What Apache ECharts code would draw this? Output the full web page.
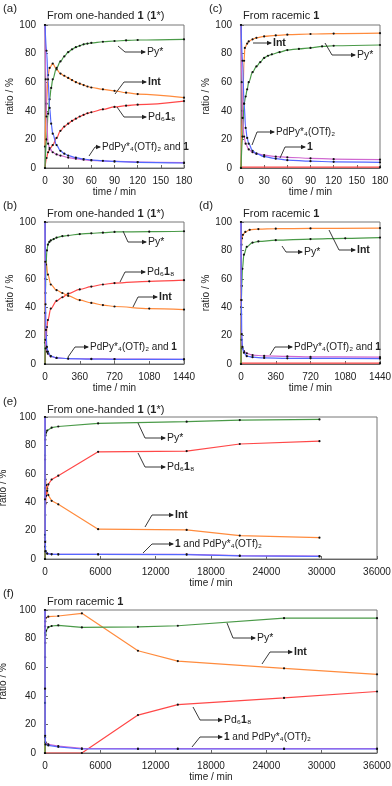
<!DOCTYPE html>
<html><head><meta charset="utf-8">
<script src="https://cdn.jsdelivr.net/npm/echarts@6/dist/echarts.min.js"></script>
<style>html,body{margin:0;padding:0;background:#fff}#c{width:392px;height:786px}</style>
</head><body><div id="c"></div><script>
// ---------- DATA (time in min, ratio in %) ----------
// (a) one-handed 1*, 0-180 min
const aPy   = [[0,0],[2,20],[4,38],[6,48],[8,56],[10,62],[15,70],[20,74.5],[25,78],[30,81],[35,83],[40,84.5],[45,85.5],[50,86.5],[55,87],[60,87.5],[75,88.3],[90,88.8],[105,89.2],[120,89.5],[180,90]];
const aInt  = [[0,15],[2,45],[4,65],[6,70],[10,73],[15,69],[20,66],[25,64.5],[30,63],[35,61.5],[40,60],[45,59],[50,58],[55,57],[60,56.3],[75,55],[90,54],[105,52.7],[120,51.7],[180,49.2]];
const aPd   = [[0,0],[2,7],[4,11],[6,13],[10,16],[15,21],[20,26],[25,29],[30,31],[35,33],[40,34.5],[45,36],[50,37.2],[55,38.3],[60,39],[75,41],[90,42.7],[105,43.6],[120,44.3],[180,46.8]];
const aBlue = [[0,100],[2,82],[4,62],[6,42],[8,31],[10,24],[15,16],[20,12],[25,10],[30,8.7],[40,7.2],[50,6.3],[60,5.6],[75,5],[90,4.6],[120,4],[180,3.5]];
const aOne  = [[0,100],[1,62],[2,36],[4,17],[6,14],[10,11],[15,9.5],[20,8.7],[30,7.3],[40,6.5],[50,5.8],[60,5.3],[90,4.6],[120,4.2],[180,3.8]];
// (b) one-handed 1*, 0-1440 min
const bPy   = [[0,0],[5,50],[10,70],[20,80],[30,84],[45,86],[60,87],[90,88],[120,89],[180,90],[240,90.5],[360,91.5],[480,92],[600,92.5],[720,93],[1080,93.2],[1440,93.5]];
const bInt  = [[0,15],[3,60],[10,73],[30,63],[60,56],[120,52],[180,50],[240,48],[360,45],[480,43],[600,41.5],[720,40.5],[1080,39],[1440,38.3]];
const bPd   = [[0,0],[5,11],[10,13],[20,26],[30,31],[60,39],[120,44.5],[180,47],[240,49.5],[360,52.5],[480,54.5],[600,56],[720,57],[1080,58.2],[1440,59]];
const bBlue = [[0,100],[3,72],[6,42],[10,24],[20,12],[30,8.7],[60,5.6],[120,4.3],[240,3.8],[480,3.5],[720,3.3],[1440,3.2]];
const bOne  = [[0,100],[2,36],[4,17],[10,11],[20,8.7],[30,7.3],[60,5.3],[120,4.3],[240,3.8],[480,3.6],[720,3.5],[1440,3.3]];
// (c) racemic 1, 0-180 min
const cPy   = [[0,0],[2,22],[4,45],[6,50],[8,55],[10,60],[15,67],[20,71],[25,74],[30,77],[35,78.5],[40,79.5],[50,81],[60,82.5],[75,83.3],[90,84],[105,85],[120,85.5],[180,86]];
const cInt  = [[0,0],[2,40],[4,75],[5,84],[8,87],[10,88.5],[15,90],[20,91],[30,92],[45,92.7],[60,93.2],[90,93.7],[120,94],[180,94.3]];
const cPd   = [[0,0.6],[180,0.6]];
const cBlue = [[0,100],[2,75],[4,45],[6,28],[8,21],[10,17],[15,12],[20,10],[30,8],[45,6.5],[60,5.5],[90,4.8],[120,4.3],[180,4]];
const cOne  = [[0,100],[1,60],[2,35],[4,22],[6,17],[10,13],[15,11],[20,10],[30,9],[45,8],[60,7.5],[90,6.8],[120,6.2],[180,5.8]];
// (d) racemic 1, 0-1440 min
const dPy   = [[0,0],[4,45],[8,55],[15,67],[30,77],[60,82.5],[120,85.5],[180,86.3],[360,87.2],[720,88],[1080,88.5],[1440,89]];
const dInt  = [[0,0],[2,40],[5,84],[10,88.5],[20,91],[45,93],[90,94.5],[180,95],[360,95.3],[720,95.5],[1440,95.7]];
const dPd   = [[0,0.6],[1440,0.6]];
const dBlue = [[0,100],[4,45],[8,21],[15,12],[30,8],[60,5.5],[120,4.8],[240,4.3],[480,4],[720,4],[1440,3.8]];
const dOne  = [[0,100],[2,35],[6,17],[15,11],[30,9],[60,7.5],[120,6.3],[240,5.7],[480,5.3],[720,5],[1440,4.8]];
// (e) one-handed 1*, 0-36000 min
const ePy   = [[0,0],[5,50],[10,70],[30,84],[60,87],[120,89],[240,90.5],[720,92.5],[1440,93.3],[5760,95.5],[15360,96.7],[21120,97.8],[29760,98.3]];
const eInt  = [[0,15],[10,73],[60,56],[120,52],[240,48],[360,45],[720,41],[1440,38.5],[5760,21],[15360,20.5],[21120,16.5],[29760,15]];
const ePd   = [[0,0],[10,13],[30,31],[60,39],[120,44.5],[240,49.5],[360,52.5],[720,56],[1440,58.7],[5760,75.5],[15360,76],[21120,81],[29760,83]];
const eBlue = [[0,100],[6,42],[20,12],[60,5.6],[240,3.8],[720,3.3],[1440,3.2],[5760,3.2],[15360,3.1],[21120,2.2],[29760,1.8]];
const eOne  = [[0,100],[4,17],[20,8.7],[60,5.3],[240,3.8],[720,3.4],[1440,3.3],[5760,3.3],[15360,3.2],[21120,2.4],[29760,2]];
// (f) racemic 1, 0-36000 min
const fPy   = [[0,0],[4,45],[15,67],[30,77],[60,82.5],[120,85.5],[360,88],[720,88.8],[1440,89.3],[4000,87.8],[10080,88.2],[14400,89],[25920,94.3],[36000,94.3]];
const fInt  = [[0,0],[5,84],[10,88.5],[30,92],[90,94.5],[360,95.3],[1440,95.8],[4000,97.7],[10080,71.5],[14400,64.3],[25920,59.2],[36000,55]];
const fPd   = [[0,0],[4000,0],[10080,26.5],[14400,33.8],[25920,38.5],[36000,43]];
const fBlue = [[0,100],[4,45],[15,12],[60,6],[360,5.3],[1440,4.3],[4000,2.8],[10080,2.8],[14400,2.8],[25920,2.8],[36000,2.8]];
const fOne  = [[0,100],[2,35],[15,11],[60,7.5],[360,6],[1440,4.8],[4000,3.2],[10080,3.1],[14400,3.1],[25920,3.1],[36000,3.1]];

const yTicks = {min:0, max:100, interval:20};
const xScales = {a:[180,30], b:[1440,360], c:[180,30], d:[1440,360], e:[36000,6000], f:[36000,6000]};

// ---------- LAYOUT / STYLE ----------
const FONT = '"Liberation Sans", Arial, Helvetica, sans-serif';
const panels = [
  {k:'a', grid:{left:45, top:25, width:139, height:143}, smooth:true, s:{pd:aPd,int:aInt,py:aPy,one:aOne,blue:aBlue}},
  {k:'b', grid:{left:45, top:222, width:139, height:142}, smooth:true, s:{pd:bPd,int:bInt,py:bPy,one:bOne,blue:bBlue}},
  {k:'c', grid:{left:241, top:25, width:139, height:143}, smooth:true, s:{pd:cPd,int:cInt,py:cPy,one:cOne,blue:cBlue}},
  {k:'d', grid:{left:241, top:222, width:139, height:142}, smooth:true, s:{pd:dPd,int:dInt,py:dPy,one:dOne,blue:dBlue}},
  {k:'e', grid:{left:45, top:417, width:332, height:142}, smooth:false, s:{pd:ePd,int:eInt,py:ePy,one:eOne,blue:eBlue}},
  {k:'f', grid:{left:45, top:610, width:332, height:143}, smooth:false, s:{pd:fPd,int:fInt,py:fPy,one:fOne,blue:fBlue}}
];
const kinds = [['pd','#ff4848'],['int','#ff8b3d'],['py','#4a9a48'],['one','#d068d0'],['blue','#5468ff']];

const grids=[], xAxes=[], yAxes=[], series=[];
panels.forEach((p,i)=>{
  grids.push(Object.assign({show:true, borderColor:'#777', borderWidth:1, containLabel:false, outerBoundsMode:'none'}, p.grid));
  const [xm, xi] = xScales[p.k];
  xAxes.push({type:'value', gridIndex:i, min:0, max:xm, interval:xi,
    axisLine:{lineStyle:{color:'#666'}}, axisTick:{inside:true, length:3, lineStyle:{color:'#666'}},
    axisLabel:{fontSize:10, color:'#222', fontFamily:FONT, margin:8, formatter:v=>String(v)},
    splitLine:{show:false},
    name:'time / min', nameLocation:'middle', nameGap:19, nameTextStyle:{fontSize:10, color:'#222', fontFamily:FONT}});
  yAxes.push({type:'value', gridIndex:i, min:yTicks.min, max:yTicks.max, interval:yTicks.interval,
    axisLine:{lineStyle:{color:'#666'}}, axisTick:{inside:true, length:3, lineStyle:{color:'#666'}},
    axisLabel:{fontSize:10, color:'#222', fontFamily:FONT, margin:9},
    splitLine:{show:false},
    name:'ratio / %', nameLocation:'middle', nameGap:27, nameTextStyle:{fontSize:10, color:'#222', fontFamily:FONT}});
  kinds.forEach(([kk,col],j)=>{
    series.push({type:'line', xAxisIndex:i, yAxisIndex:i, data:p.s[kk],
      smooth:p.smooth?0.35:false, smoothMonotone:'x',
      symbol:'circle', symbolSize:2.2, showAllSymbol:true,
      itemStyle:{color:'#111'}, lineStyle:{color:col, width:1.2},
      z:2+j, silent:true, animation:false, emphasis:{disabled:true}});
  });
});

// annotation call-outs: polyline points (start, elbow, arrow tip) and label
const LBL = {
  py:'{n|Py*}', int:'{b|Int}', pd:'{n|Pd₆}{b|1}{n|₈}',
  pdpy1:'{s|PdPy*₄(OTf)₂ and }{sb|1}', onepdpy:'{sb|1}{s| and PdPy*₄(OTf)₂}',
  pdpy:'{s|PdPy*₄(OTf)₂}', one:'{b|1}'
};
const callouts = [
  [[[118,46],[125,52],[145,52]],'py'],
  [[[115,94],[124,82],[146,82]],'int'],
  [[[117,107],[124,117],[146,117]],'pd'],
  [[[89,156],[95,147],[100,147]],'pdpy1'],
  [[[123,231],[128,242],[146,242]],'py'],
  [[[120,282],[125,272],[145,272]],'pd'],
  [[[133,307],[138,297],[157,297]],'int'],
  [[[68,357],[75,347],[88,347]],'pdpy1'],
  [[[253,43],[253,43],[271,43]],'int'],
  [[[325,43],[332,55],[355,55]],'py'],
  [[[252,145],[257,132],[274,132]],'pdpy'],
  [[[280,158],[285,147],[305,147]],'one'],
  [[[282,246],[286,252],[302,252]],'py'],
  [[[329,230],[339,250],[355,250]],'int'],
  [[[270,355],[275,347],[292,347]],'pdpy1'],
  [[[138,423],[145,438],[165,438]],'py'],
  [[[138,453],[145,467],[165,467]],'pd'],
  [[[145,527],[152,515],[173,515]],'int'],
  [[[143,553],[152,544],[173,544]],'onepdpy'],
  [[[227,623],[233,638],[255,638]],'py'],
  [[[262,664],[270,652],[292,652]],'int'],
  [[[193,707],[200,720],[222,720]],'pd'],
  [[[192,747],[200,737],[222,737]],'onepdpy']
];
const richStyles = {
  n:{fontSize:10.5, fontFamily:FONT, fill:'#222'},
  b:{fontSize:10.5, fontFamily:FONT, fontWeight:'bold', fill:'#222'},
  s:{fontSize:10, fontFamily:FONT, fill:'#222'},
  sb:{fontSize:10, fontFamily:FONT, fontWeight:'bold', fill:'#222'},
  t:{fontSize:11, fontFamily:FONT, fill:'#222'},
  tb:{fontSize:11, fontFamily:FONT, fontWeight:'bold', fill:'#222'}
};
const graphic = [];
callouts.forEach(([pts,lab])=>{
  const tip = pts[2];
  graphic.push({type:'polyline', shape:{points:pts}, style:{stroke:'#222', lineWidth:0.9, fill:null}, silent:true, z:100});
  graphic.push({type:'polygon', shape:{points:[[tip[0]+1,tip[1]],[tip[0]-4,tip[1]-2.2],[tip[0]-4,tip[1]+2.2]]}, style:{fill:'#222'}, silent:true, z:100});
  graphic.push({type:'text', x:tip[0]+2, y:tip[1], style:{text:LBL[lab], rich:richStyles, verticalAlign:'middle', align:'left', fontSize:10.5, fontFamily:FONT, fill:'#222'}, silent:true, z:100});
});
const TITLE1 = '{t|From one-handed }{tb|1}{t| (}{tb|1}{t|*)}';
const TITLE2 = '{t|From racemic }{tb|1}';
const heads = [
  ['(a)',3,9,TITLE1,47,16], ['(b)',3,206,TITLE1,47,214],
  ['(c)',209,9,TITLE2,243,16], ['(d)',199,206,TITLE2,243,214],
  ['(e)',3,402,TITLE1,47,410], ['(f)',3,594,TITLE2,47,602]
];
heads.forEach(([l,lx,ly,t,tx,ty])=>{
  graphic.push({type:'text', x:lx, y:ly, style:{text:l, fontSize:11.5, fontFamily:FONT, fill:'#222', verticalAlign:'middle'}, silent:true});
  graphic.push({type:'text', x:tx, y:ty, style:{text:t, rich:richStyles, fontSize:11, fontFamily:FONT, fill:'#222', verticalAlign:'middle'}, silent:true});
});

const chart = echarts.init(document.getElementById('c'), null, {renderer:'canvas'});
chart.setOption({animation:false, backgroundColor:'#fff', grid:grids, xAxis:xAxes, yAxis:yAxes, series:series, graphic:graphic});
</script></body></html>
